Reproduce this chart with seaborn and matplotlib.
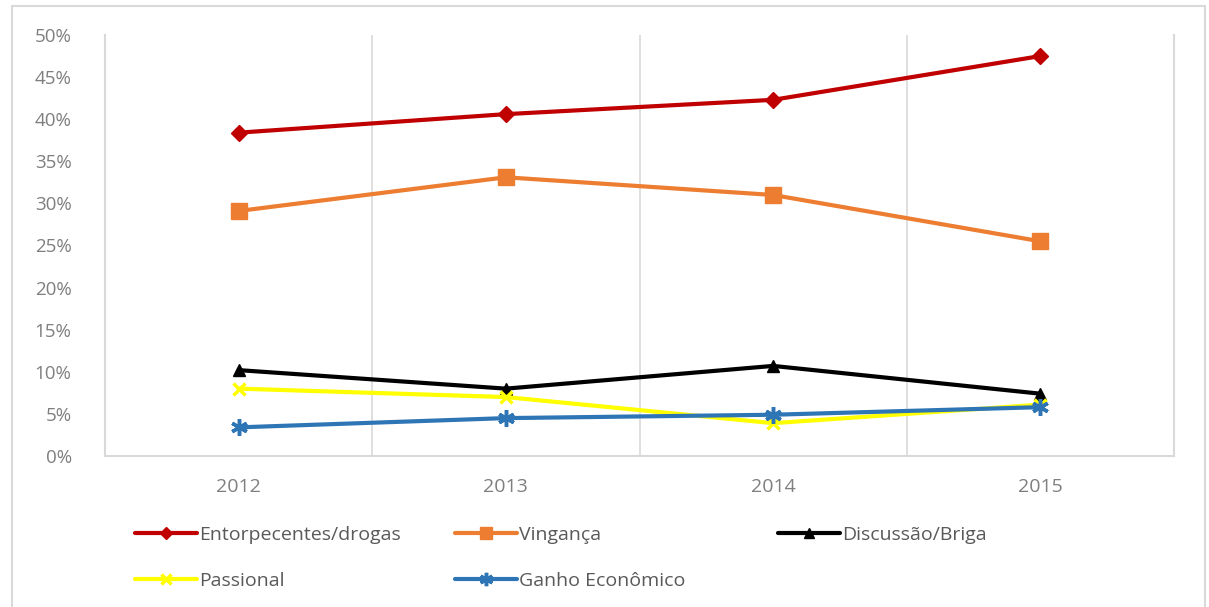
import matplotlib
matplotlib.use("Agg")
import matplotlib.pyplot as plt
import seaborn as sns
import pandas as pd
from matplotlib.patches import Rectangle
from matplotlib.ticker import FuncFormatter, FixedLocator

years = ["2012", "2013", "2014", "2015"]
entorpecentes = [38.4, 40.6, 42.3, 47.5]
vinganca = [29.1, 33.1, 31.0, 25.5]
discussao = [10.2, 8.0, 10.7, 7.4]
passional = [8.0, 7.0, 3.9, 6.1]
ganho = [3.4, 4.5, 4.9, 5.8]

series_names = ["Entorpecentes/drogas", "Vingança", "Discussão/Briga", "Passional", "Ganho Econômico"]
series_vals = [entorpecentes, vinganca, discussao, passional, ganho]
colors = ["#C00000", "#ED7D31", "#000000", "#FFFF00", "#2E75B6"]
markers = ["D", "s", "^", "x", (6, 2, 0)]
msizes = [8, 11, 9, 9, 12]

rows = []
for name, vals in zip(series_names, series_vals):
    for i, (y, v) in enumerate(zip(years, vals)):
        rows.append({"serie": name, "idx": i, "ano": y, "valor": v})
df = pd.DataFrame(rows)

sns.set_style("white")
plt.rcParams["font.family"] = ["Open Sans", "DejaVu Sans"]

fig = plt.figure(figsize=(12.09, 6.07), dpi=100)
ax = fig.add_axes([105 / 1209, 1 - 456 / 607, (1174 - 105) / 1209, (456 - 35) / 607])

handles = {}
for name, col, mk, ms in zip(series_names, colors, markers, msizes):
    sub = df[df["serie"] == name]
    sns.lineplot(data=sub, x="idx", y="valor", ax=ax, color=col, linewidth=3,
                 marker=mk, markersize=ms, markeredgecolor=col,
                 markeredgewidth=2.5 if mk in ("x", (6, 2, 0)) else 1, legend=False)
    handles[name] = ax.lines[-1]

ax.set_xlim(-0.5, 3.5)
ax.set_ylim(0, 50)
ax.set_xticks(range(len(years)))
ax.set_xticklabels(years)
ax.xaxis.set_minor_locator(FixedLocator([0.5, 1.5, 2.5]))
ax.grid(False)
ax.grid(True, which="minor", axis="x", color="#D9D9D9", linewidth=1.2)
ax.set_yticks(range(0, 51, 5))
ax.yaxis.set_major_formatter(FuncFormatter(lambda v, p: f"{int(v)}%"))
ax.set_xlabel("")
ax.set_ylabel("")
ax.tick_params(axis="both", which="both", length=0)
ax.tick_params(axis="y", labelsize=13.5, labelcolor="#7F7F7F", pad=24)
ax.tick_params(axis="x", labelsize=14, labelcolor="#7F7F7F", pad=16)
for side in ["left", "right", "bottom"]:
    ax.spines[side].set_color("#D9D9D9")
    ax.spines[side].set_linewidth(1.5)
ax.spines["top"].set_visible(False)

# outer chart border
fig.patches.append(Rectangle((12 / 1209, -0.05), (1205 - 12) / 1209, 1 - 6 / 607 + 0.05,
                             transform=fig.transFigure, fill=False,
                             edgecolor="#D9D9D9", linewidth=1.5))

legend_cols = [
    (["Entorpecentes/drogas", "Passional"], 125),
    (["Vingança", "Ganho Econômico"], 445),
    (["Discussão/Briga"], 768),
]
for names, xpx in legend_cols:
    leg = fig.legend([handles[n] for n in names], names,
                     loc="upper left", bbox_to_anchor=(xpx / 1209, 1 - 516 / 607),
                     frameon=False, fontsize=14, handlelength=3.2, handletextpad=0.1,
                     labelspacing=1.45, borderpad=0, markerscale=0.8)
    for t in leg.get_texts():
        t.set_color("#595959")

fig.savefig("out.png", dpi=100, facecolor="white")
